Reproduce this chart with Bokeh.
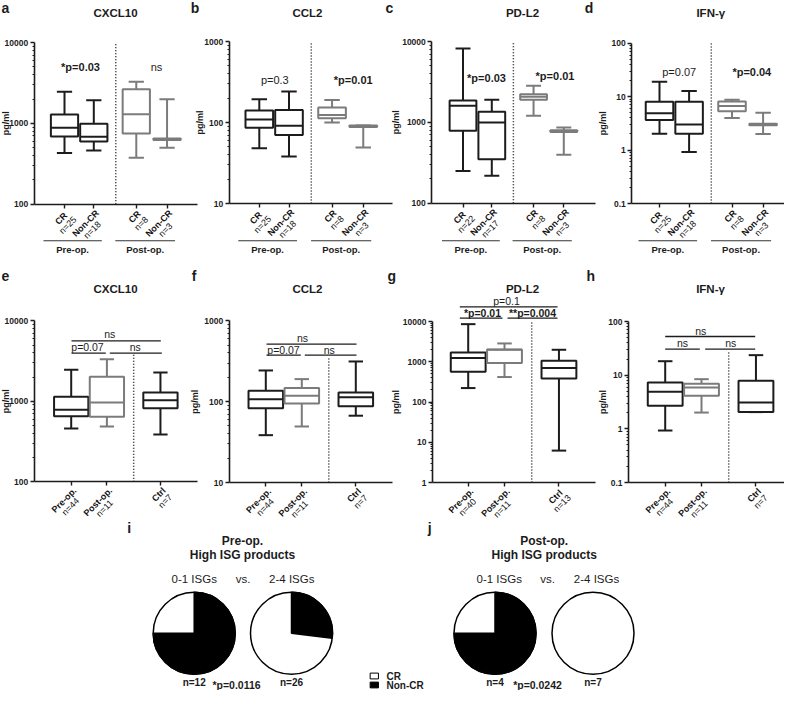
import math
from bokeh.plotting import figure
from bokeh.models import (Range1d, LogScale, LogAxis, LinearAxis, FixedTicker,
                          CustomJSTickFormatter, ColumnDataSource)
from bokeh.core.properties import value, field
from bokeh.embed import file_html
from bokeh.resources import INLINE

FONT = "Liberation Sans"
BLACK = "#1c1c1c"
GRAY = "#7b7b7b"

# ======================= DATA =======================
# Top row (a-d): CR / Non-CR, pre-op. and post-op.
TOP_CATS = ["CR", "Non-CR", "CR", "Non-CR"]
TOP_GROUPS = ["Pre-op.", "Post-op."]
A_N = ["n=25", "n=18", "n=8", "n=3"]
B_N = ["n=25", "n=18", "n=8", "n=3"]
C_N = ["n=22", "n=17", "n=8", "n=3"]
D_N = ["n=25", "n=18", "n=8", "n=3"]

# CXCL10 (a)
A_MIN = [430, 460, 375, 500]
A_Q1 = [687, 596, 748, 622]
A_MED = [880, 681, 1298, 635]
A_Q3 = [1286, 986, 2648, 650]
A_MAX = [2455, 1935, 3260, 1990]
# CCL2 (b)
B_MIN = [48, 38, 100, 49]
B_Q1 = [86, 70, 113, 88]
B_MED = [109, 91, 124, 90]
B_Q3 = [141, 143, 153, 92]
B_MAX = [194, 241, 189, 92]
# PD-L2 (c)
C_MIN = [251, 218, 1205, 397]
C_Q1 = [785, 350, 1900, 760]
C_MED = [1600, 995, 2070, 778]
C_Q3 = [1862, 1349, 2230, 800]
C_MAX = [8190, 1905, 2832, 863]
# IFN-gamma (d)
D_MIN = [2.01, 0.925, 4.0, 2.0]
D_Q1 = [3.67, 2.03, 5.3, 2.9]
D_MED = [4.9, 3.0, 6.7, 3.0]
D_Q3 = [7.98, 7.98, 8.1, 3.1]
D_MAX = [18.9, 12.8, 8.7, 5.0]

# Middle row (e-h): Pre-op. / Post-op. / Ctrl
MID_CATS = ["Pre-op.", "Post-op.", "Ctrl"]
E_N = ["n=44", "n=11", "n=7"]
F_N = ["n=44", "n=11", "n=7"]
G_N = ["n=40", "n=11", "n=13"]
H_N = ["n=44", "n=11", "n=7"]

E_MIN = [460, 487, 387]
E_Q1 = [654, 642, 822]
E_MED = [784, 967, 1034]
E_Q3 = [1137, 2015, 1288]
E_MAX = [2460, 3340, 2280]

F_MIN = [38.5, 49.3, 67]
F_Q1 = [83, 95, 88]
F_MED = [107, 118, 113]
F_Q3 = [136, 147, 130]
F_MAX = [243, 190, 314]

G_MIN = [222, 417, 6.2]
G_Q1 = [565, 927, 386]
G_MED = [1233, 1980, 697]
G_Q3 = [1703, 2023, 1059]
G_MAX = [8590, 2850, 1985]

H_MIN = [0.93, 2.01, 2.05]
H_Q1 = [2.68, 4.12, 2.07]
H_MED = [4.89, 5.9, 3.1]
H_Q3 = [7.3, 6.9, 7.84]
H_MAX = [18.2, 8.42, 23.6]

# Pie charts (i, j): counts of CR / Non-CR patients
PIE_LABELS = ["n=12", "n=26", "n=4", "n=7"]
PIE_CR = [3, 19, 1, 7]
PIE_NONCR = [9, 7, 3, 0]
PIE_P = ["*p=0.0116", "*p=0.0242"]

# ======================= FIGURE =======================
p = figure(width=784, height=690, x_range=Range1d(0, 784), y_range=Range1d(0, 690),
           output_backend="svg", toolbar_location=None, min_border=0,
           x_axis_location=None, y_axis_location=None, title=None)
p.grid.visible = False
p.outline_line_color = None
p.background_fill_color = "white"
p.border_fill_color = "white"


def X(rx):
    return rx - 8.0


def Y(ry):
    return 698.0 - ry


REG = {' ': 278, '*': 389, '-': 333, '.': 278, '/': 278, '=': 584, 'C': 722, 'R': 722,
       'N': 722, 'P': 667, 'o': 556, 'n': 556, 'p': 556, 'e': 556, 'r': 333, 't': 278,
       'l': 222, 's': 500}
BOLD = {' ': 278, '*': 389, '-': 333, '.': 278, '=': 584, 'C': 722, 'R': 722, 'N': 722,
        'P': 667, 'o': 611, 'n': 611, 'p': 611, 'e': 556, 'r': 389, 't': 333, 'l': 278,
        's': 556}


def tw(s, size, bold):
    t = BOLD if bold else REG
    return sum(t.get(ch, 556) for ch in s) * size / 1000.0


def txt(rx, ry, s, size, bold=False, align="center", angle=0.0, color=BLACK):
    p.text(x=[X(rx)], y=[Y(ry)], text=[s], text_font=value(FONT),
           text_font_size=f"{size}px", text_font_style="bold" if bold else "normal",
           text_align=align, text_baseline="middle", angle=angle, text_color=color)


def hline(x0, x1, ry, color=BLACK, width=1.3):
    p.segment(x0=[X(x0)], y0=[Y(ry)], x1=[X(x1)], y1=[Y(ry)], line_color=color,
              line_width=width)


xr, yr, ys = {}, {}, {}
panels = {}


def setup(key, anchor, unit, yaxis_px, xend_px, ytop, ybot, lmin, lmax):
    a0 = X(anchor)
    xr[key] = Range1d((0 - a0) / unit, (784 - a0) / unit)
    ftop, fbot = Y(ytop), Y(ybot)
    k = (ftop - fbot) / (lmax - lmin)
    yr[key] = Range1d(10 ** (lmin - fbot / k), 10 ** (lmin + (690 - fbot) / k))
    ys[key] = LogScale()
    panels[key] = dict(anchor=anchor, unit=unit, yaxis=yaxis_px, xend=xend_px,
                       ytop=ytop, ybot=ybot, lmin=lmin, lmax=lmax)


TOP_X = [0, 1, 2.45, 3.5]
MID_X = [0, 1, 2.5]
DOT_X = 1.75

setup("a", 72, 29.3, 41.7, 205, 50, 211.7, 2, 4)
setup("b", 266.8, 29.7, 236.7, 400, 49, 211, 1, 3)
setup("c", 470.5, 28.8, 439.3, 603, 49, 210.7, 2, 4)
setup("d", 667, 29.6, 639.3, 792, 50.7, 211, -1, 2)
setup("e", 78.7, 35.7, 41.7, 205, 328.3, 489.3, 2, 4)
setup("f", 273.3, 36, 236.7, 400, 328.3, 490, 1, 3)
setup("g", 475.7, 36.3, 440, 603, 329, 490, 0, 4)
setup("h", 672.7, 36.3, 636, 792, 329, 490, -1, 2)

p.extra_x_ranges = xr
p.extra_y_ranges = yr
p.extra_y_scales = ys


def px(key, x):
    s = panels[key]
    return s["anchor"] + s["unit"] * x


def dx(key, rx):
    s = panels[key]
    return (rx - s["anchor"]) / s["unit"]


def vy(key, ry):
    s = panels[key]
    L = s["lmax"] - (ry - s["ytop"]) / (s["ybot"] - s["ytop"]) * (s["lmax"] - s["lmin"])
    return 10 ** L


def axes(key):
    s = panels[key]
    lmin, lmax = s["lmin"], s["lmax"]
    majors = [10 ** e if e >= 0 else 10.0 ** e for e in range(lmin, lmax + 1)]
    minors = [m * (10 ** e if e >= 0 else 10.0 ** e) for e in range(lmin, lmax) for m in range(2, 10)]
    ya = LogAxis(x_range_name=key, y_range_name=key, fixed_location=dx(key, s["yaxis"]),
                 bounds=(majors[0], majors[-1]),
                 ticker=FixedTicker(ticks=majors, minor_ticks=minors),
                 formatter=CustomJSTickFormatter(code="return tick < 1 ? tick.toString() : tick.toFixed(0)"),
                 axis_line_color=BLACK, axis_line_width=1.6,
                 major_tick_line_color=BLACK, major_tick_line_width=1.4, major_tick_out=4, major_tick_in=0,
                 minor_tick_line_color=BLACK, minor_tick_line_width=1, minor_tick_out=2, minor_tick_in=0,
                 major_label_text_font=FONT, major_label_text_font_size="8.5px",
                 major_label_text_font_style="bold", major_label_text_color=BLACK,
                 major_label_standoff=2)
    p.add_layout(ya, "left")
    xa = LinearAxis(x_range_name=key, y_range_name=key, fixed_location=majors[0],
                    bounds=(dx(key, s["yaxis"]), dx(key, s["xend"])),
                    ticker=FixedTicker(ticks=TOP_X if key in "abcd" else MID_X, minor_ticks=[]),
                    formatter=CustomJSTickFormatter(code="return ''"),
                    axis_line_color=BLACK, axis_line_width=1.6,
                    major_tick_line_color=BLACK, major_tick_line_width=1.4, major_tick_out=4,
                    major_tick_in=0, minor_tick_out=0, minor_tick_in=0)
    p.add_layout(xa, "below")


def boxes(key, xs, lo, q1, med, q3, hi, colors, bw, cap):
    src = ColumnDataSource(dict(
        x=xs, lo=lo, q1=q1, med=med, q3=q3, hi=hi, col=colors,
        xl=[x - bw / 2 for x in xs], xr=[x + bw / 2 for x in xs],
        cl=[x - cap for x in xs], cr=[x + cap for x in xs]))
    kw = dict(source=src, x_range_name=key, y_range_name=key, line_color=field("col"), line_width=2)
    p.segment(x0="x", y0="lo", x1="x", y1="hi", **kw)
    p.segment(x0="cl", y0="hi", x1="cr", y1="hi", **kw)
    p.segment(x0="cl", y0="lo", x1="cr", y1="lo", **kw)
    p.quad(left="xl", right="xr", bottom="q1", top="q3", fill_color="white", **kw)
    p.segment(x0="xl", y0="med", x1="xr", y1="med", **kw)


def dotted(key, top_value):
    s = panels[key]
    p.segment(x0=[DOT_X], y0=[10.0 ** s["lmin"]], x1=[DOT_X], y1=[top_value],
              x_range_name=key, y_range_name=key, line_color=BLACK, line_width=1.5,
              line_dash="1 2")


def rot_labels(key, xs, line1, line2, axis_ry):
    c = math.cos(math.pi / 4)
    lh = 9.3
    for x, s1, s2 in zip(xs, line1, line2):
        tx = px(key, x)
        wb = max(tw(s1, 9, True), tw(s2, 9, False))
        Tx, Ty = tx + 0.5, axis_ry + 4.0
        for i, (s, b) in enumerate([(s1, True), (s2, False)]):
            cx = Tx - c * wb / 2 + c * lh * (i + 0.5)
            cy = Ty + c * wb / 2 + c * lh * (i + 0.5)
            txt(cx, cy, s, 9, b, angle=math.pi / 4, color="#111111")


def ylabel(rx, ry):
    txt(rx, ry, "pg/ml", 9, True, angle=math.pi / 2)


TOP_COL = [BLACK, BLACK, GRAY, GRAY]
MID_COL = [BLACK, GRAY, BLACK]

# ---------------- top row ----------------
top = [
    ("a", "CXCL10", 123, A_N, A_MIN, A_Q1, A_MED, A_Q3, A_MAX, 13),
    ("b", "CCL2", 315, B_N, B_MIN, B_Q1, B_MED, B_Q3, B_MAX, 207.7),
    ("c", "PD-L2", 530, C_N, C_MIN, C_Q1, C_MED, C_Q3, C_MAX, 403.3),
    ("d", "IFN-γ", 718.3, D_N, D_MIN, D_Q1, D_MED, D_Q3, D_MAX, 610),
]
letters_top = {"a": 13, "b": 202.5, "c": 397, "d": 596.5}
for key, title, tx, ns, lo, q1, med, q3, hi, ylx in top:
    s = panels[key]
    dotted(key, 10 ** s["lmax"])
    axes(key)
    boxes(key, TOP_X, lo, q1, med, q3, hi, TOP_COL, 0.93, 0.26)
    txt(letters_top[key], 15, key, 14, True)
    txt(tx, 20.5, title, 11.5, True)
    ylabel(ylx, (s["ytop"] + s["ybot"]) / 2)
    rot_labels(key, TOP_X, TOP_CATS, ns, s["ybot"])
    for g, (i0, i1) in zip(TOP_GROUPS, [(0, 1), (2, 3)]):
        x0 = px(key, TOP_X[i0]) - 21
        x1 = px(key, TOP_X[i1]) + 8
        hline(x0, x1, 248.3, color="#333333", width=1.1)
        txt((x0 + x1) / 2, 257.2, g, 9.5, True)

# p-values top row
txt(88, 74, "*p=0.03", 11, True)
txt(164, 74, "ns", 11)
txt(282.3, 87.3, "p=0.3", 11)
txt(360.7, 87.3, "*p=0.01", 11, True)
txt(494, 85, "*p=0.03", 11, True)
txt(562.5, 83.3, "*p=0.01", 11, True)
txt(686.7, 79, "p=0.07", 11)
txt(759.3, 79, "*p=0.04", 11, True)

# ---------------- middle row ----------------
mid = [
    ("e", "CXCL10", 123, E_N, E_MIN, E_Q1, E_MED, E_Q3, E_MAX, 13, 361.7),
    ("f", "CCL2", 315, F_N, F_MIN, F_Q1, F_MED, F_Q3, F_MAX, 202.3, 365),
    ("g", "PD-L2", 530, G_N, G_MIN, G_Q1, G_MED, G_Q3, G_MAX, 403.3, 329),
    ("h", "IFN-γ", 718, H_N, H_MIN, H_Q1, H_MED, H_Q3, H_MAX, 610, 359),
]
letters_mid = {"e": 13, "f": 201.7, "g": 399.3, "h": 598.3}
for key, title, tx, ns, lo, q1, med, q3, hi, ylx, dtop in mid:
    s = panels[key]
    dotted(key, vy(key, dtop))
    axes(key)
    boxes(key, MID_X, lo, q1, med, q3, hi, MID_COL, 0.96, 0.2)
    txt(letters_mid[key], 283, key, 14, True)
    txt(tx, 296.5, title, 11.5, True)
    ylabel(ylx, (s["ytop"] + s["ybot"]) / 2)
    rot_labels(key, MID_X, MID_CATS, ns, s["ybot"])

# significance brackets, middle row: (text, bold, text_x, text_y, line_x0, line_x1, line_y)
brackets = [
    ("ns", False, 117.3, 341.7, 79, 168.3, 348.3),
    ("p=0.07", False, 95, 354, 79, 113.3, 360.7),
    ("ns", False, 142.7, 354, 117.3, 169.3, 360.7),
    ("ns", False, 310, 345, 274, 364, 351.7),
    ("p=0.07", False, 291, 357.3, 274, 308.3, 362.7),
    ("ns", False, 336.7, 357.3, 312.3, 364, 362.7),
    ("p=0.1", False, 514, 308.5, 467.3, 565, 314.3),
    ("*p=0.01", True, 490, 320.3, 467.3, 510, 325.7),
    ("**p=0.004", True, 540, 320.3, 515, 565, 325.7),
    ("ns", False, 708.3, 338.3, 672.7, 762.7, 344),
    ("ns", False, 690, 350.7, 672.7, 707.3, 356.7),
    ("ns", False, 738.3, 350.7, 712.7, 762.7, 356.7),
]
for t, b, bx, by, l0, l1, ly in brackets:
    hline(l0, l1, ly, width=1.3)
    txt(bx, by, t, 10.5, b)

# ---------------- pies (i, j) ----------------
txt(136.7, 535, "i", 14, True)
txt(437.3, 535, "j", 14, True)
for cx, head in [(250, "Pre-op."), (551.7, "Post-op.")]:
    txt(cx, 548.3, head, 12, True)
    txt(cx, 562.7, "High ISG products", 12, True)
for cx in [201.7, 506.7]:
    txt(cx, 586.7, "0-1 ISGs", 11.5)
for cx in [250.7, 555]:
    txt(cx, 586.7, "vs.", 11.5)
for cx in [299.3, 604]:
    txt(cx, 586.7, "2-4 ISGs", 11.5)

PIE_CX = [201.7, 299, 502.5, 600.5]
PIE_CY = 640.7
R = 41
tot = [a + b for a, b in zip(PIE_CR, PIE_NONCR)]
p.circle(x=[X(c) for c in PIE_CX], y=[Y(PIE_CY)] * 4, radius=R, fill_color="white",
         line_color="black", line_width=1.5)
ws = [(X(c), 2 * math.pi * cr / n, nc) for c, cr, nc, n in zip(PIE_CX, PIE_CR, PIE_NONCR, tot)]
wsrc = ColumnDataSource(dict(
    x=[w[0] for w in ws if w[2] > 0],
    y=[Y(PIE_CY)] * sum(1 for w in ws if w[2] > 0),
    s=[math.pi / 2 + w[1] for w in ws if w[2] > 0],
    e=[math.pi / 2 + 2 * math.pi for w in ws if w[2] > 0]))
p.wedge(x="x", y="y", radius=R, start_angle="s", end_angle="e", direction="anticlock",
        source=wsrc, fill_color="black", line_color="black", line_width=1.5)
for c, lab in zip(PIE_CX, PIE_LABELS):
    txt(c, 689.5, lab, 10, True)
txt(244, 692.5, PIE_P[0], 10.5, True)
txt(545, 692.5, PIE_P[1], 10.5, True)

# legend
p.rect(x=[X(381.8), X(381.8)], y=[Y(683.5), Y(692.5)], width=8.3, height=5.8,
       fill_color=["white", "black"], line_color="black", line_width=1)
txt(394, 683.5, "CR", 10, True, align="left")
txt(394, 692.5, "Non-CR", 10, True, align="left")

open("out.html", "w").write(file_html(p, INLINE))
